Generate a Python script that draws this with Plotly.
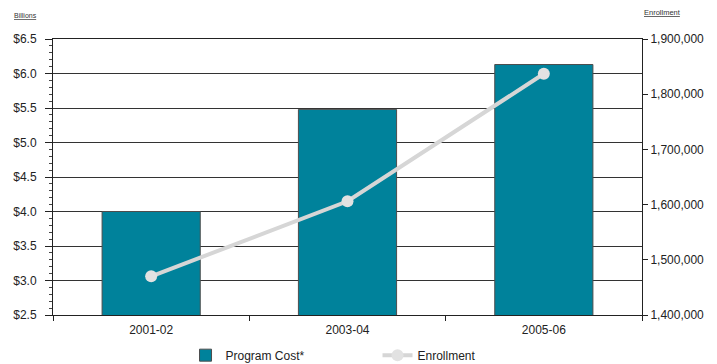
import plotly.graph_objects as go

years = ["2001-02", "2003-04", "2005-06"]
program_cost = [4.0, 5.48, 6.13]          # billions of dollars
enrollment = [1470000, 1606000, 1837000]  # students

FONT = "Liberation Sans, Arial, sans-serif"

fig = go.Figure()

fig.add_trace(go.Bar(
    x=years, y=program_cost, name="Program Cost*",
    marker=dict(color="#00829B", line=dict(color="#4d4d4d", width=1)),
    width=0.5, yaxis="y",
))

fig.add_trace(go.Scatter(
    x=years, y=enrollment, name="Enrollment", mode="lines+markers",
    line=dict(color="#D6D6D6", width=4),
    marker=dict(color="#E2E2E2", size=12),
    yaxis="y2",
))

fig.update_layout(
    width=717, height=364,
    margin=dict(l=53, r=75, t=39, b=49, autoexpand=False),
    paper_bgcolor="white", plot_bgcolor="white",
    font=dict(family=FONT, size=12, color="#222222"),
    xaxis=dict(
        type="category",
        showline=True, linecolor="#222222", linewidth=1, mirror=True,
        ticks="outside", tickson="boundaries", ticklen=5, tickcolor="#222222",
        showgrid=False,
        ticklabelstandoff=4,
        tickfont=dict(size=12, family=FONT, color="#222222"),
    ),
    yaxis=dict(
        range=[2.5, 6.5], dtick=0.5, tickformat="$.1f",
        showline=True, linecolor="#222222", linewidth=1,
        ticks="outside", ticklen=7, tickcolor="#222222",
        showgrid=True, gridcolor="#333333", gridwidth=1,
        minor=dict(ticks="outside", dtick=0.1, ticklen=3, tickcolor="#444444", showgrid=False),
        zeroline=False,
        ticklabelstandoff=6,
        tickfont=dict(size=12, family=FONT, color="#222222"),
    ),
    yaxis2=dict(
        range=[1400000, 1900000], dtick=100000, tickformat=",",
        overlaying="y", side="right",
        showline=True, linecolor="#222222", linewidth=1,
        ticks="outside", ticklen=5, tickcolor="#222222",
        showgrid=False, zeroline=False,
        tickfont=dict(size=12, family=FONT, color="#222222"),
    ),
    legend=dict(
        orientation="h", x=0.225, xanchor="left", y=-0.093, yanchor="top",
        font=dict(size=12, family=FONT, color="#222222"),
        entrywidth=147, traceorder="normal",
    ),
    annotations=[
        dict(text="<u>Billions</u>", xref="paper", yref="paper", x=-0.07, y=1.085,
             xanchor="left", yanchor="middle", showarrow=False,
             font=dict(size=7, family=FONT, color="#333333")),
        dict(text="<u>Enrollment</u>", xref="paper", yref="paper", x=1.0, y=1.095,
             xanchor="left", yanchor="middle", showarrow=False,
             font=dict(size=7.5, family=FONT, color="#333333")),
    ],
)

fig.write_html("out.html")
